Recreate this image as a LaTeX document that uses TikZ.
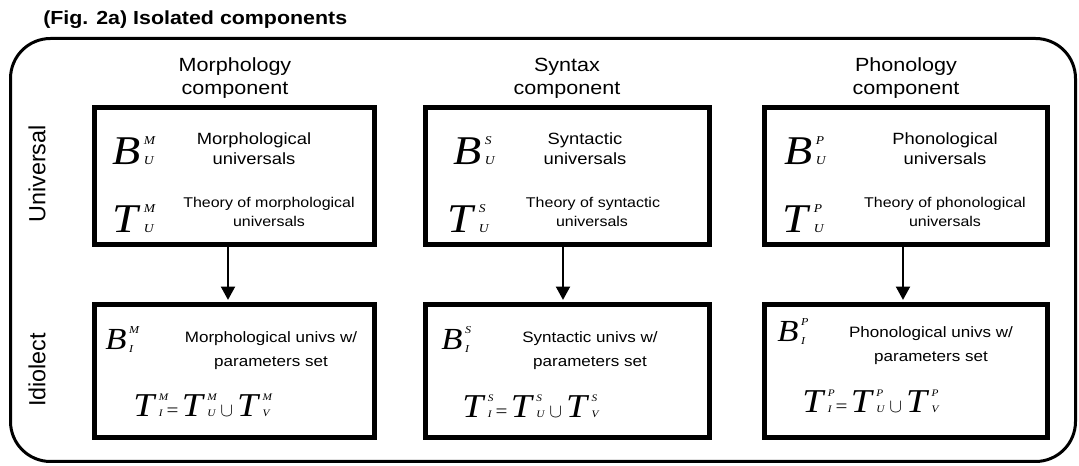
\documentclass[tikz,border=0pt]{standalone}
\usepackage{fontspec}
\setmainfont{Liberation Sans}[FakeStretch=1.13]
\newfontfamily\tms{Liberation Serif}[FakeStretch=1.13]
\newfontfamily\plainsans{Liberation Sans}
\usetikzlibrary{arrows.meta}

% #1 letter, #2 sup, #3 sub, #4 gap after letter
\newcommand\SymBig[4]{{\tms\itshape\fontsize{30.6}{30}\selectfont #1}\kern#4{\tms\itshape\fontsize{9}{9}\selectfont\rlap{\raisebox{15pt}{#2}}#3}}
\newcommand\SymMid[3]{{\tms\itshape\fontsize{23}{23}\selectfont #1}\kern2pt{\tms\itshape\fontsize{8}{8}\selectfont\rlap{\raisebox{12.5pt}{#2}}\raisebox{-2pt}{#3}}}
\newcommand\SymEq[3]{{\tms\itshape\fontsize{25}{25}\selectfont #1}\kern3.5pt{\tms\itshape\fontsize{7.5}{7.5}\selectfont\rlap{\raisebox{12pt}{#2}}#3}}
\newcommand\EqLine[1]{\SymEq{T}{#1}{I}\kern3pt{\tms\fontsize{14}{14}\selectfont=}\kern2.5pt\SymEq{T}{#1}{U}\kern3.5pt{\fontsize{14}{14}\selectfont$\cup$}\kern3pt\SymEq{T}{#1}{V}}

\begin{document}
\begin{tikzpicture}[x=0.75pt,y=-0.75pt,
  box/.style={draw, line width=3.9pt, inner sep=0pt},
  upbox/.style={box, minimum height=102.75pt},
  lowbox/.style={box, minimum height=99.75pt},
  frame/.style={draw, line width=2.25pt, rounded corners=30pt, inner sep=0pt,
    minimum width=798.75pt, minimum height=317.25pt},
  arr/.style={line width=1.5pt, shorten >=1.5pt, -{Triangle[width=10.5pt,length=10pt]}},
  lab/.style={anchor=base, inner sep=0pt},
  head/.style={lab, font=\fontsize{14.3}{17}\selectfont},
  big/.style={lab, font=\fontsize{12.2}{14}\selectfont},
  small/.style={lab, font=\fontsize{10.6}{12}\selectfont},
  mid/.style={lab, font=\fontsize{11.3}{13}\selectfont},
  side/.style={rotate=90, inner sep=0pt, font=\plainsans\fontsize{17.5}{20}\selectfont},
  sym/.style={anchor=base west, inner sep=0pt}]
\useasboundingbox (0,0) rectangle (1079,466);

\node[anchor=base west, inner sep=0pt, font=\bfseries\fontsize{14.2}{17}\selectfont] (title) at (43,25) {(Fig. 2a) Isolated components};

\node[frame] (frm) at (543,250) {};

% side labels
\node[side] (uni) at (37,174) {Universal};
\node[side] (idi) at (37,370) {Idiolect};

% headers
\node[head] (mh1) at (235,72) {Morphology};
\node[head] (mh2) at (235,95) {component};
\node[head] (sh1) at (567,72) {Syntax};
\node[head] (sh2) at (567,95) {component};
\node[head] (ph1) at (906,72) {Phonology};
\node[head] (ph2) at (906,95) {component};

% boxes
\node[upbox, minimum width=210pt] (mu) at (234.5,176) {};
\node[upbox, minimum width=213pt] (su) at (567.5,176) {};
\node[upbox, minimum width=212.25pt] (pu) at (906,176) {};
\node[lowbox, minimum width=210pt] (ml) at (234.5,371) {};
\node[lowbox, minimum width=213pt] (sl) at (567.5,371) {};
\node[lowbox, minimum width=212.25pt] (pl) at (906,371) {};

% arrows
\draw[arr] ([xshift=-4.875pt]mu.south) -- ([xshift=-4.875pt]ml.north);
\draw[arr] ([xshift=-3.375pt]su.south) -- ([xshift=-3.375pt]sl.north);
\draw[arr] ([xshift=-2.25pt]pu.south) -- ([xshift=-2.25pt]pl.north);

% morphology upper
\node[sym] (mbu) at (112,165) {\SymBig{B}{M}{U}{2.5pt}};
\node[big] (mt1) at (254,145) {Morphological};
\node[big] (mt2) at (254,165) {universals};
\node[sym] (mtu) at (112,233) {\SymBig{T}{M}{U}{4.5pt}};
\node[small] (mt3) at (269,208) {Theory of morphological};
\node[small] (mt4) at (269,227) {universals};

% syntax upper
\node[sym] (sbu) at (453,165) {\SymBig{B}{S}{U}{2.5pt}};
\node[big] (st1) at (585,145) {Syntactic};
\node[big] (st2) at (585,165) {universals};
\node[sym] (stu) at (447,233) {\SymBig{T}{S}{U}{4.5pt}};
\node[small] (st3) at (593,208) {Theory of syntactic};
\node[small] (st4) at (592,227) {universals};

% phonology upper
\node[sym] (pbu) at (784,165) {\SymBig{B}{P}{U}{2.5pt}};
\node[big] (pt1) at (945,145) {Phonological};
\node[big] (pt2) at (945,165) {universals};
\node[sym] (ptu) at (782,233) {\SymBig{T}{P}{U}{4.5pt}};
\node[small] (pt3) at (945,208) {Theory of phonological};
\node[small] (pt4) at (945,227) {universals};

% morphology lower
\node[sym] (mbi) at (105,350) {\SymMid{B}{M}{I}};
\node[mid] (ml1) at (271,343) {Morphological univs w/};
\node[mid] (ml2) at (271,367) {parameters set};
\node[sym] (meq) at (133,417) {\EqLine{M}};

% syntax lower
\node[sym] (sbi) at (441,350) {\SymMid{B}{S}{I}};
\node[mid] (sl1) at (590,343) {Syntactic univs w/};
\node[mid] (sl2) at (590,367) {parameters set};
\node[sym] (seq) at (462,418) {\EqLine{S}};

% phonology lower
\node[sym] (pbi) at (777,342) {\SymMid{B}{P}{I}};
\node[mid] (pl1) at (931,338) {Phonological univs w/};
\node[mid] (pl2) at (931,362) {parameters set};
\node[sym] (peq) at (802,413) {\EqLine{P}};
\end{tikzpicture}
\end{document}
